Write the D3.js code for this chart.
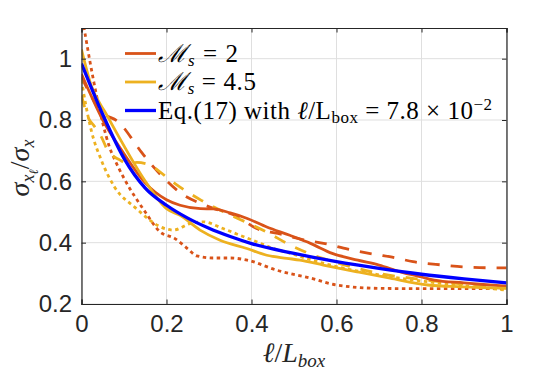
<!DOCTYPE html>
<html>
<head>
<meta charset="utf-8">
<script src="https://cdn.jsdelivr.net/npm/d3@7"></script>
<style>
  body { margin: 0; background: #fff; }
  svg { display: block; }
</style>
</head>
<body>
<div id="chart"></div>
<script>
'use strict';

// data, [l/Lbox, sigma ratio]
var mach2Solid = [[0, 0.95], [0.05, 0.80], [0.1, 0.69], [0.15, 0.595], [0.2, 0.54], [0.232, 0.522], [0.28, 0.511],
  [0.31, 0.51], [0.35, 0.497], [0.39, 0.479], [0.436, 0.451], [0.49, 0.424], [0.54, 0.397], [0.59, 0.365],
  [0.65, 0.343], [0.7, 0.327], [0.75, 0.305], [0.8, 0.288], [0.83, 0.278], [0.9, 0.269], [0.96, 0.262], [1, 0.258]];
var mach2Dashed = [[0, 0.94], [0.045, 0.83], [0.09, 0.79], [0.128, 0.72], [0.141, 0.695], [0.184, 0.625],
  [0.235, 0.56], [0.282, 0.527], [0.302, 0.516], [0.368, 0.484], [0.412, 0.446], [0.462, 0.43], [0.52, 0.41],
  [0.573, 0.397], [0.627, 0.379], [0.686, 0.363], [0.74, 0.35], [0.78, 0.338], [0.85, 0.327], [0.91, 0.32],
  [0.97, 0.318], [1, 0.318]];
var mach2Dotted = [[0, 1.15], [0.02, 0.99], [0.036, 0.876], [0.05, 0.79], [0.066, 0.711], [0.079, 0.668],
  [0.1, 0.61], [0.15, 0.5], [0.185, 0.435], [0.219, 0.414], [0.25, 0.38], [0.271, 0.357], [0.31, 0.35],
  [0.35, 0.35], [0.39, 0.343], [0.46, 0.31], [0.54, 0.284], [0.6, 0.262], [0.7, 0.251], [0.8, 0.25], [1, 0.25]];
var mach45Solid = [[0, 1.03], [0.023, 0.912], [0.058, 0.82], [0.086, 0.75], [0.149, 0.603], [0.2, 0.511],
  [0.232, 0.489], [0.279, 0.441], [0.326, 0.408], [0.389, 0.381], [0.436, 0.359], [0.483, 0.349], [0.514, 0.343],
  [0.569, 0.327], [0.648, 0.305], [0.726, 0.284], [0.815, 0.262], [0.895, 0.256], [1, 0.251]];
var mach45Dashed = [[0, 0.88], [0.015, 0.81], [0.03, 0.78], [0.047, 0.744], [0.062, 0.70], [0.09, 0.67],
  [0.11, 0.657], [0.13, 0.662], [0.153, 0.657], [0.18, 0.636], [0.204, 0.609], [0.243, 0.571], [0.282, 0.538],
  [0.335, 0.5], [0.39, 0.465], [0.438, 0.433], [0.487, 0.395], [0.535, 0.365], [0.6, 0.335], [0.7, 0.3],
  [0.8, 0.28], [0.9, 0.265], [1, 0.252]];
var mach45Dotted = [[0, 0.93], [0.01, 0.85], [0.023, 0.766], [0.047, 0.668], [0.078, 0.581], [0.125, 0.516],
  [0.196, 0.446], [0.216, 0.441], [0.255, 0.462], [0.286, 0.468], [0.333, 0.446], [0.373, 0.424], [0.412, 0.403],
  [0.451, 0.381], [0.491, 0.365], [0.55, 0.34], [0.6, 0.322], [0.7, 0.295], [0.8, 0.275], [0.9, 0.26], [1, 0.245]];
var eq17 = [[0, 0.984], [0.05, 0.818], [0.1, 0.675], [0.15, 0.578], [0.2, 0.522], [0.25, 0.48], [0.3, 0.447],
  [0.35, 0.42], [0.4, 0.397], [0.5, 0.365], [0.6, 0.338], [0.7, 0.316], [0.8, 0.297], [0.9, 0.282], [1, 0.269]];

var xTicks = [0, 0.2, 0.4, 0.6, 0.8, 1];
var yTicks = [0.2, 0.4, 0.6, 0.8, 1];

var red = '#D95319', yellow = '#EDB120', blue = '#0000FF';
var dashes = { solid: null, dashed: '12,11', dotted: '3.5,3.5' };

var series = [
  { data: mach2Dashed, color: red, style: 'dashed' },
  { data: mach2Dotted, color: red, style: 'dotted' },
  { data: mach45Dashed, color: yellow, style: 'dashed' },
  { data: mach45Dotted, color: yellow, style: 'dotted' },
  { data: mach2Solid, color: red, style: 'solid' },
  { data: mach45Solid, color: yellow, style: 'solid' },
  { data: eq17, color: blue, style: 'solid', width: 3.3 }
];

var width = 560, height = 375;
var margin = { left: 81.5, right: 53.5, top: 28, bottom: 71 };

var svg = d3.select('#chart').append('svg')
  .attr('width', width)
  .attr('height', height);
svg.append('rect').attr('width', width).attr('height', height).attr('fill', '#fff');

var x = d3.scaleLinear().domain([0, 1]).range([margin.left, width - margin.right]);
var y = d3.scaleLinear().domain([0.2, 1.1]).range([height - margin.bottom, margin.top]);

// grid
var grid = svg.append('g').attr('stroke', '#dfdfdf').attr('stroke-width', 1);
xTicks.forEach(function(t) {
  grid.append('line').attr('x1', x(t)).attr('x2', x(t)).attr('y1', y(0.2)).attr('y2', y(1.1));
});
yTicks.forEach(function(t) {
  grid.append('line').attr('x1', x(0)).attr('x2', x(1)).attr('y1', y(t)).attr('y2', y(t));
});

// curves
svg.append('clipPath').attr('id', 'plot-clip')
  .append('rect')
  .attr('x', x(0)).attr('y', y(1.1))
  .attr('width', x(1) - x(0)).attr('height', y(0.2) - y(1.1));

var line = d3.line()
  .x(function(d) { return x(d[0]); })
  .y(function(d) { return y(d[1]); })
  .curve(d3.curveMonotoneX);

svg.append('g').attr('clip-path', 'url(#plot-clip)')
  .selectAll('path')
  .data(series)
  .enter().append('path')
  .attr('d', function(s) { return line(s.data); })
  .attr('fill', 'none')
  .attr('stroke', function(s) { return s.color; })
  .attr('stroke-width', function(s) { return s.width || 2.8; })
  .attr('stroke-dasharray', function(s) { return dashes[s.style]; });

// axes (MATLAB style: ticks inward on all four sides)
var tickFont = 'Liberation Sans, Arial, Helvetica, sans-serif';
svg.append('g')
  .attr('transform', 'translate(0,' + y(0.2) + ')')
  .call(d3.axisBottom(x).tickValues(xTicks).tickSize(-4.5).tickPadding(11)
    .tickFormat(function(d) { return d === 0 || d === 1 ? d3.format('d')(d) : d3.format('.1f')(d); }));
svg.append('g')
  .attr('transform', 'translate(' + x(0) + ',0)')
  .call(d3.axisLeft(y).tickValues(yTicks).tickSize(-4.5).tickPadding(9.5)
    .tickFormat(function(d) { return d === 1 ? '1' : d3.format('.1f')(d); }));
svg.append('g')
  .attr('transform', 'translate(0,' + y(1.1) + ')')
  .call(d3.axisTop(x).tickValues(xTicks).tickSize(-4.5).tickFormat(''));
svg.append('g')
  .attr('transform', 'translate(' + x(1) + ',0)')
  .call(d3.axisRight(y).tickValues(yTicks).tickSize(-4.5).tickFormat(''));

svg.selectAll('.domain').attr('stroke', '#262626').attr('stroke-width', 1.2);
svg.selectAll('.tick line').attr('stroke', '#262626').attr('stroke-width', 1);
svg.selectAll('.tick text')
  .style('font-family', tickFont)
  .style('font-size', '24px')
  .attr('fill', '#262626');

// axis labels
var serif = 'Liberation Serif, Times New Roman, serif';
var xLabel = svg.append('text')
  .attr('x', x(0.5))
  .attr('y', 362)
  .attr('text-anchor', 'middle')
  .style('font-family', serif)
  .style('font-size', '28px')
  .attr('fill', '#262626');
xLabel.append('tspan').style('font-style', 'italic').text('ℓ');
xLabel.append('tspan').text('/');
xLabel.append('tspan').style('font-style', 'italic').text('L');
xLabel.append('tspan').style('font-style', 'italic').style('font-size', '19px').attr('dy', 5).text('box');

var yLabel = svg.append('text')
  .attr('transform', 'translate(29,' + 168 + ') rotate(-90)')
  .attr('text-anchor', 'middle')
  .style('font-family', serif)
  .style('font-size', '28px')
  .style('font-style', 'italic')
  .attr('fill', '#262626');
yLabel.append('tspan').text('σ');
yLabel.append('tspan').style('font-size', '18px').attr('dy', 5).text('x');
yLabel.append('tspan').style('font-size', '13px').attr('dy', 4).text('ℓ');
yLabel.append('tspan').style('font-style', 'normal').attr('dy', -9).text('/');
yLabel.append('tspan').text('σ');
yLabel.append('tspan').style('font-size', '18px').attr('dy', 5).text('x');

// legend
var legendItems = [
  { color: red, len: 80, parts: [['ℳ', 'italic', 25, 0], ['s', 'italic', 17, 4], [' = 2', 'normal', 25, -4]] },
  { color: yellow, len: 98, parts: [['ℳ', 'italic', 25, 0], ['s', 'italic', 17, 4], [' = 4.5', 'normal', 25, -4]] },
  { color: blue, len: 334, parts: [['Eq.(17) with ', 'normal', 25, 0], ['ℓ', 'italic', 25, 0], ['/L', 'normal', 25, 0],
    ['box', 'normal', 17, 4], [' = 7.8 × 10', 'normal', 25, -4], ['−2', 'normal', 17, -9]] }
];
var legend = svg.append('g');
legendItems.forEach(function(item, i) {
  var ly = 53.5 + i * 28.5;
  legend.append('line')
    .attr('x1', 125).attr('x2', 156)
    .attr('y1', ly).attr('y2', ly)
    .attr('stroke', item.color)
    .attr('stroke-width', item.color === blue ? 3.3 : 2.8);
  var t = legend.append('text')
    .attr('x', 158)
    .attr('y', ly + 8)
    .style('font-family', serif)
    .attr('fill', '#000');
  item.parts.forEach(function(p) {
    t.append('tspan')
      .style('font-style', p[1])
      .style('font-size', p[2] + 'px')
      .attr('dy', p[3])
      .text(p[0]);
  });
  // stretch a little toward the width measured on the reference
  var w = t.node().getComputedTextLength();
  if (w < item.len && item.len - w < 25) {
    t.attr('textLength', item.len).attr('lengthAdjust', 'spacing');
  }
});
</script>
</body>
</html>
